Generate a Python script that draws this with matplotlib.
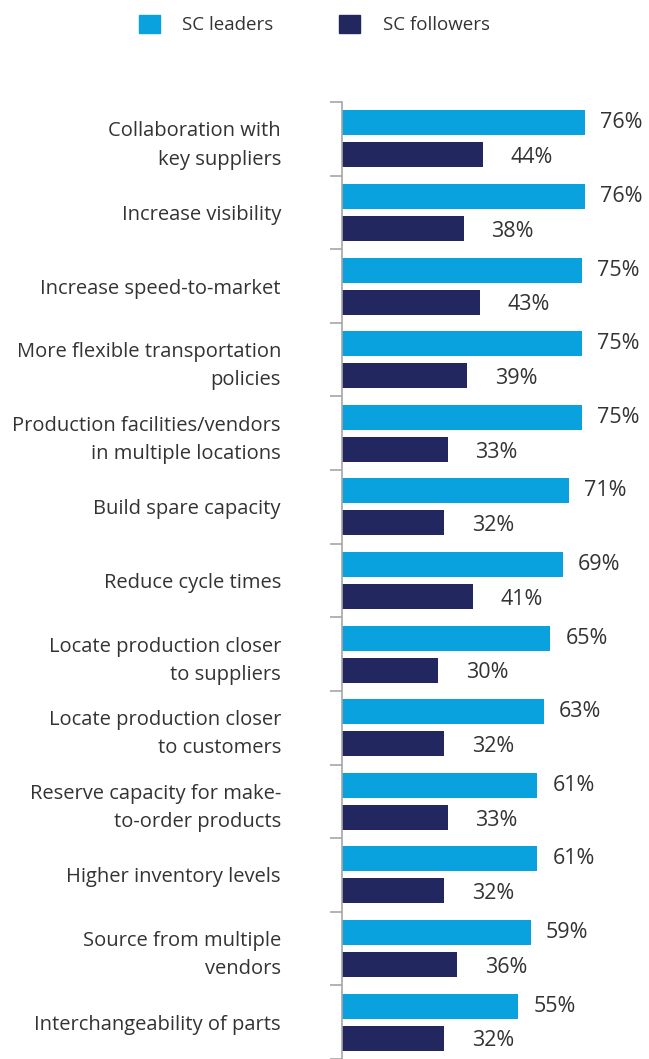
import matplotlib.pyplot as plt
import numpy as np
from matplotlib.patches import Patch

categories = [
    "Collaboration with\nkey suppliers",
    "Increase visibility",
    "Increase speed-to-market",
    "More flexible transportation\npolicies",
    "Production facilities/vendors\nin multiple locations",
    "Build spare capacity",
    "Reduce cycle times",
    "Locate production closer\nto suppliers",
    "Locate production closer\nto customers",
    "Reserve capacity for make-\nto-order products",
    "Higher inventory levels",
    "Source from multiple\nvendors",
    "Interchangeability of parts",
]
leaders = [76, 76, 75, 75, 75, 71, 69, 65, 63, 61, 61, 59, 55]
followers = [44, 38, 43, 39, 33, 32, 41, 30, 32, 33, 32, 36, 32]
series_names = ["SC leaders", "SC followers"]

c_lead = "#0aa2de"
c_follow = "#22285f"
c_text = "#333333"
c_axis = "#a6a6a6"

plt.rcParams['font.family'] = ['Open Sans', 'DejaVu Sans']

fig = plt.figure(figsize=(6.49, 10.59), dpi=100)
ax = fig.add_axes([342 / 649, 0.0, 304 / 649, 957 / 1059])

y = np.arange(len(categories))
off = 0.2174
h = 0.34
ax.barh(y - off, leaders, height=h, color=c_lead)
ax.barh(y + off, followers, height=h, color=c_follow)

for yi, v in zip(y, leaders):
    ax.annotate(f"{v}%", (v, yi - off), xytext=(11, 0), textcoords='offset points',
                va='center', ha='left', fontsize=15.5, color=c_text)
for yi, v in zip(y, followers):
    ax.annotate(f"{v}%", (v, yi + off), xytext=(20, -2), textcoords='offset points',
                va='center', ha='left', fontsize=15.5, color=c_text)

ax.set_xlim(0, 95)
ax.set_ylim(len(categories) - 0.5, -0.5)

# group boundaries get the tick marks, centres get the labels
ax.set_yticks(np.arange(len(categories) + 1) - 0.5)
ax.set_yticklabels([])
ax.set_yticks(y, minor=True)
ax.set_yticklabels(categories, minor=True, fontsize=14.5, color=c_text, ha='right',
                   linespacing=1.55)
ax.tick_params(axis='y', which='major', length=8.6, width=1.2, color=c_axis, direction='out')
ax.tick_params(axis='y', which='minor', length=0, pad=44)
ax.set_xticks([])

for s in ['top', 'right', 'bottom']:
    ax.spines[s].set_visible(False)
ax.spines['left'].set_color(c_axis)
ax.spines['left'].set_linewidth(1.2)

handles = [Patch(color=c_lead), Patch(color=c_follow)]
fig.legend(handles, series_names, loc='upper left', bbox_to_anchor=(139 / 649, 1 - 15 / 1059),
           ncol=2, frameon=False, fontsize=13.5, handlelength=1.12, handleheight=1.12,
           handletextpad=1.2, columnspacing=3.5, borderpad=0, borderaxespad=0,
           labelcolor=c_text)

fig.savefig("out.png", dpi=100)
